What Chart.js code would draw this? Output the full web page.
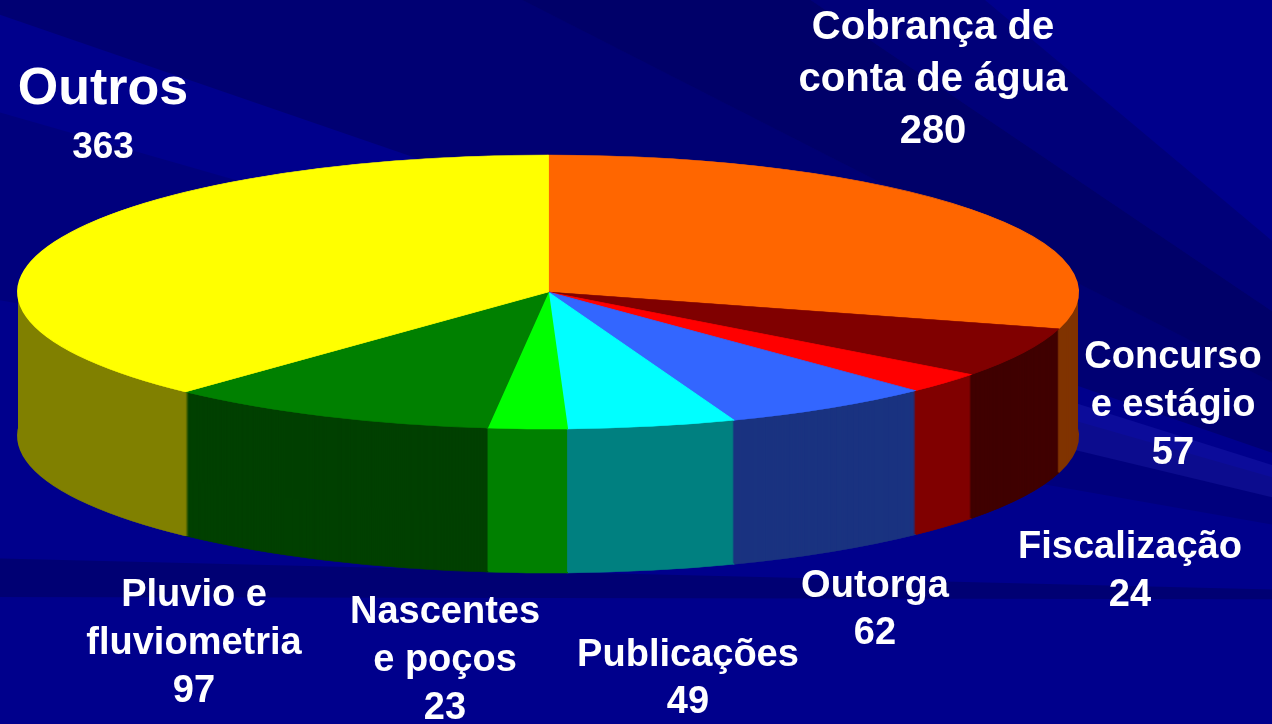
<!DOCTYPE html>
<html>
<head>
<meta charset="utf-8">
<script src="https://cdn.jsdelivr.net/npm/chart.js@4.4.1/dist/chart.umd.min.js"></script>
<style>
  html, body { margin: 0; padding: 0; background: #00008C; overflow: hidden; }
  #pie { display: block; }
</style>
</head>
<body>
<canvas id="pie" width="1272" height="724"></canvas>
<script>
const categories = ['Cobrança de\nconta de água', 'Concurso\ne estágio', 'Fiscalização', 'Outorga',
                    'Publicações', 'Nascentes\ne poços', 'Pluvio e\nfluviometria', 'Outros'];
const counts = [280, 57, 24, 62, 49, 23, 97, 363];
const topColors = ['#FF6600', '#800000', '#FF0000', '#3366FF', '#00FFFF', '#00FF00', '#008000', '#FFFF00'];
const sideColors = ['#803300', '#400000', '#800000', '#1A3380', '#008080', '#008000', '#004000', '#808000'];

// label blocks: centre x, first line y, font size, line step (value size if different)
const labelLayout = [
    { x: 933, y: 28, size: 40, step: 52 },
    { x: 1173, y: 358, size: 38, step: 48 },
    { x: 1130, y: 548, size: 38, step: 48 },
    { x: 875, y: 587, size: 38, step: 47 },
    { x: 688, y: 656, size: 38, step: 47 },
    { x: 445, y: 613, size: 38, step: 48 },
    { x: 194, y: 596, size: 38, step: 48 },
    { x: 103, y: 90, size: 52, step: 58, valueSize: 37 }
];

// the flattened disc
const RX = 530, RY = 137, DEPTH = 144;

const backdrop = {
    id: 'backdrop',
    beforeDraw(chart) {
        const ctx = chart.ctx;
        ctx.save();
        ctx.fillStyle = '#00008C';
        ctx.fillRect(0, 0, chart.width, chart.height);
        // streaks fanning out from a point off the right edge
        const fx = 1700, fy = 600;
        const rays = [
            [190, 196, 'rgba(0,0,40,0.15)', 4000],
            [199, 207, 'rgba(0,0,40,0.25)', 4000],
            [207, 214, 'rgba(0,0,40,0.35)', 4000],
            [214, 220, 'rgba(0,0,40,0.18)', 4000],
            [180.1, 181.4, 'rgba(0,0,40,0.25)', 4000],
            [193.5, 197.5, 'rgba(60,60,210,0.2)', 660]
        ];
        rays.forEach(([a0, a1, c, L]) => {
            const r0 = a0 * Math.PI / 180, r1 = a1 * Math.PI / 180;
            ctx.beginPath();
            ctx.moveTo(fx, fy);
            ctx.lineTo(fx + L * Math.cos(r0), fy + L * Math.sin(r0));
            ctx.lineTo(fx + L * Math.cos(r1), fy + L * Math.sin(r1));
            ctx.closePath();
            ctx.fillStyle = c;
            ctx.fill();
        });
        ctx.restore();
    }
};

function drawArcAs(arc, ctx, color, border) {
    const shim = Object.create(arc);
    shim.options = Object.assign({}, arc.options, { backgroundColor: color, borderColor: color, borderWidth: border });
    arc.draw.call(shim, ctx);
}

const pie3d = {
    id: 'pie3d',
    beforeDatasetsDraw(chart) {
        const ctx = chart.ctx;
        const arcs = chart.getDatasetMeta(0).data;
        const cx = arcs[0].x, cy = arcs[0].y, R = arcs[0].outerRadius;
        const sx = RX / R, sy = RY / R;
        ctx.save();
        ctx.translate(cx, cy);
        ctx.scale(sx, sy);
        ctx.translate(-cx, -cy);
        for (let d = DEPTH; d >= 1; d--) {
            ctx.save();
            ctx.translate(0, d / sy);
            arcs.forEach((arc, i) => drawArcAs(arc, ctx, sideColors[i], d === DEPTH ? 1 : 0));
            ctx.restore();
        }
        arcs.forEach((arc, i) => drawArcAs(arc, ctx, topColors[i], 1));
        ctx.restore();
        return false;
    }
};

const sliceLabels = {
    id: 'sliceLabels',
    afterDraw(chart) {
        const ctx = chart.ctx;
        ctx.save();
        ctx.fillStyle = '#FFFFFF';
        ctx.textAlign = 'center';
        ctx.textBaseline = 'middle';
        categories.forEach((name, i) => {
            const lay = labelLayout[i];
            const lines = name.split('\n');
            let y = lay.y;
            ctx.font = 'bold ' + lay.size + 'px "Liberation Sans", Arial, sans-serif';
            lines.forEach(line => {
                ctx.fillText(line, lay.x, y);
                y += lay.step;
            });
            ctx.font = 'bold ' + (lay.valueSize || lay.size) + 'px "Liberation Sans", Arial, sans-serif';
            ctx.fillText(String(counts[i]), lay.x, y);
        });
        ctx.restore();
    }
};

new Chart(document.getElementById('pie'), {
    type: 'pie',
    data: {
        labels: categories,
        datasets: [{
            data: counts,
            backgroundColor: topColors,
            borderColor: topColors,
            borderWidth: 1,
            clip: false
        }]
    },
    options: {
        responsive: false,
        animation: false,
        events: [],
        layout: { padding: { left: 0, right: 176, top: 0, bottom: 140 } },
        plugins: {
            legend: { display: false },
            tooltip: { enabled: false }
        }
    },
    plugins: [backdrop, pie3d, sliceLabels]
});
</script>
</body>
</html>
